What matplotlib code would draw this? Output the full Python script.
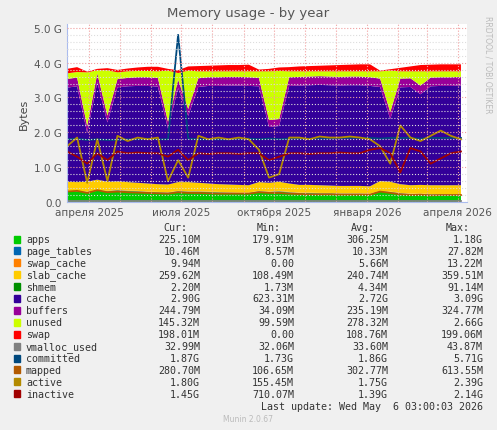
import matplotlib
matplotlib.use("Agg")
import matplotlib.pyplot as plt
import matplotlib.dates as mdates
import numpy as np
import pandas as pd

# 10-day samples starting 2025-03-10 (values in GB)
dates = pd.date_range("2025-03-10", periods=40, freq="10D")

apps = [0.30, 0.30, 0.28, 0.32, 0.30, 0.33, 0.31, 0.30, 0.28, 0.27, 0.26, 0.30, 0.29, 0.29, 0.28,
        0.27, 0.26, 0.25, 0.25, 0.30, 0.28, 0.30, 0.27, 0.25, 0.25, 0.24, 0.24, 0.23, 0.23, 0.23,
        0.22, 0.30, 0.28, 0.24, 0.22, 0.22, 0.21, 0.21, 0.20, 0.20]
page_tables = [0.01] * 40
swap_cache = [0.01] * 40
slab_cache = [0.26, 0.25, 0.28, 0.30, 0.26, 0.24, 0.24, 0.23, 0.23, 0.22, 0.22, 0.25, 0.26, 0.24, 0.23,
              0.22, 0.22, 0.22, 0.21, 0.25, 0.25, 0.26, 0.24, 0.22, 0.22, 0.22, 0.21, 0.21, 0.21, 0.21,
              0.21, 0.28, 0.28, 0.25, 0.24, 0.25, 0.25, 0.25, 0.26, 0.26]
shmem = [0.002] * 40
cache = [2.70, 2.75, 1.40, 2.80, 1.70, 2.70, 2.75, 2.78, 2.80, 2.80, 1.60, 2.70, 1.90, 2.75, 2.80,
         2.82, 2.84, 2.85, 2.85, 2.75, 1.60, 1.60, 2.80, 2.85, 2.86, 2.88, 2.88, 2.88, 2.89, 2.89,
         2.88, 2.70, 1.80, 2.78, 2.82, 2.60, 2.84, 2.85, 2.85, 2.86]
buffers = [0.25, 0.25, 0.20, 0.25, 0.20, 0.24, 0.24, 0.25, 0.25, 0.25, 0.20, 0.24, 0.20, 0.25, 0.25,
           0.25, 0.25, 0.25, 0.25, 0.24, 0.20, 0.20, 0.25, 0.25, 0.25, 0.25, 0.25, 0.25, 0.25, 0.25,
           0.25, 0.24, 0.20, 0.25, 0.25, 0.25, 0.25, 0.25, 0.25, 0.25]
unused = [0.16, 0.16, 1.54, 0.09, 1.30, 0.19, 0.19, 0.18, 0.18, 0.19, 1.47, 0.19, 1.10, 0.20, 0.17,
          0.17, 0.16, 0.16, 0.17, 0.19, 1.40, 1.38, 0.17, 0.16, 0.15, 0.14, 0.15, 0.16, 0.15, 0.15,
          0.17, 0.21, 1.19, 0.21, 0.20, 0.41, 0.18, 0.17, 0.17, 0.16]
swap = [0.13, 0.14, 0.02, 0.04, 0.06, 0.07, 0.08, 0.10, 0.12, 0.13, 0.05, 0.08, 0.12, 0.15, 0.16,
        0.17, 0.18, 0.18, 0.19, 0.05, 0.07, 0.10, 0.12, 0.14, 0.15, 0.16, 0.17, 0.18, 0.19, 0.20,
        0.20, 0.02, 0.04, 0.10, 0.14, 0.18, 0.19, 0.20, 0.20, 0.20]
vmalloc_used = [0.033] * 40
committed = [1.80, 1.82, 1.78, 1.80, 1.78, 1.78, 1.80, 1.80, 1.82, 1.80, 1.80, 4.80, 1.82, 1.80, 1.80,
             1.80, 1.80, 1.82, 1.82, 1.80, 1.82, 1.80, 1.82, 1.82, 1.82, 1.82, 1.82, 1.84, 1.84, 1.84,
             1.84, 1.82, 1.84, 1.84, 1.84, 1.82, 1.84, 1.84, 1.84, 1.84]
mapped = [0.30, 0.32, 0.26, 0.34, 0.28, 0.30, 0.28, 0.27, 0.26, 0.25, 0.24, 0.28, 0.26, 0.26, 0.25,
          0.24, 0.24, 0.24, 0.24, 0.28, 0.26, 0.26, 0.24, 0.23, 0.22, 0.22, 0.22, 0.21, 0.21, 0.21,
          0.21, 0.30, 0.26, 0.22, 0.20, 0.21, 0.19, 0.20, 0.20, 0.20]
active = [1.60, 1.85, 0.55, 1.80, 0.60, 1.90, 1.75, 1.85, 1.80, 1.85, 0.60, 1.20, 0.70, 1.90, 1.80,
          1.85, 1.80, 1.85, 1.80, 1.50, 0.70, 0.80, 1.85, 1.85, 1.80, 1.88, 1.85, 1.85, 1.88, 1.85,
          1.80, 1.60, 1.10, 2.20, 1.85, 1.75, 1.90, 2.05, 1.90, 1.80]
inactive = [1.45, 1.30, 1.10, 1.40, 1.20, 1.45, 1.40, 1.42, 1.40, 1.40, 1.30, 1.50, 1.20, 1.40, 1.38,
            1.40, 1.40, 1.38, 1.40, 1.40, 1.20, 1.30, 1.40, 1.40, 1.38, 1.40, 1.40, 1.42, 1.40, 1.40,
            1.50, 1.55, 1.40, 0.85, 1.55, 1.45, 1.10, 1.25, 1.40, 1.45]

names = ["apps", "page_tables", "swap_cache", "slab_cache", "shmem", "cache", "buffers", "unused",
         "swap", "vmalloc_used", "committed", "mapped", "active", "inactive"]
cur = ["225.10M", "10.46M", "9.94M", "259.62M", "2.20M", "2.90G", "244.79M", "145.32M", "198.01M",
       "32.99M", "1.87G", "280.70M", "1.80G", "1.45G"]
mins = ["179.91M", "8.57M", "0.00", "108.49M", "1.73M", "623.31M", "34.09M", "99.59M", "0.00",
        "32.06M", "1.73G", "106.65M", "155.45M", "710.07M"]
avgs = ["306.25M", "10.33M", "5.66M", "240.74M", "4.34M", "2.72G", "235.19M", "278.32M", "108.76M",
        "33.60M", "1.86G", "302.77M", "1.75G", "1.39G"]
maxs = ["1.18G", "27.82M", "13.22M", "359.51M", "91.14M", "3.09G", "324.77M", "2.66G", "199.06M",
        "43.87M", "5.71G", "613.55M", "2.39G", "2.14G"]
colors = ["#00CC00", "#0066B3", "#FF8000", "#FFCC00", "#008F00", "#330099", "#990099", "#CCFF00",
          "#FF0000", "#808080", "#00487D", "#B35A00", "#B38A00", "#A00000"]

fig = plt.figure(figsize=(4.97, 4.31), dpi=100, facecolor="#F0F0F0")
ax = fig.add_axes([67 / 497, (431 - 203) / 431, 400 / 497, 178 / 431])
ax.set_facecolor("white")

stack = [apps, page_tables, swap_cache, slab_cache, shmem, cache, buffers, unused, swap]
ax.stackplot(dates, *[np.array(s) * 1e9 for s in stack], colors=colors[:9], linewidth=0)
for vals, c in zip([vmalloc_used, committed, mapped, active, inactive], colors[9:]):
    ax.plot(dates, np.array(vals) * 1e9, color=c, lw=1.3)

ax.set_xlim(pd.Timestamp("2025-03-10"), pd.Timestamp("2026-04-10"))
ax.set_ylim(0, 5.11e9)
ax.set_yticks([0, 1e9, 2e9, 3e9, 4e9, 5e9])
ax.set_yticklabels(["0.0", "1.0 G", "2.0 G", "3.0 G", "4.0 G", "5.0 G"])
ax.set_yticks(np.arange(0, 5.1e9, 0.2e9), minor=True)
ticks = [pd.Timestamp(d) for d in ["2025-04-01", "2025-07-01", "2025-10-01", "2026-01-01", "2026-04-01"]]
ax.set_xticks(ticks)
ax.set_xticklabels(["апреля 2025", "июля 2025", "октября 2025", "января 2026", "апреля 2026"])
ax.xaxis.set_minor_locator(mdates.MonthLocator())
ax.tick_params(labelsize=7.5, colors="#555555", length=0, which="both")
ax.grid(True, which="both", axis="y", color="#DDDDDD", ls=":", lw=0.8)
ax.grid(True, which="major", axis="y", color="#F0A0A0", ls=":", lw=0.8)
ax.grid(True, which="both", axis="x", color="#F0A0A0", ls=":", lw=0.8)
ax.set_axisbelow(False)
for s in ["top", "right"]:
    ax.spines[s].set_visible(False)
for s in ["left", "bottom"]:
    ax.spines[s].set_color("#AABBEE")
ax.set_ylabel("Bytes", fontsize=8, color="#444444")

fig.text(0.5, 1 - 14 / 431, "Memory usage - by year", ha="center", va="center", fontsize=9.5, color="#555555")
fig.text(488 / 497, 1 - 65 / 431, "RRDTOOL / TOBI OETIKER", rotation=270, ha="center", va="center",
         fontsize=5.5, color="#BBBBBB")

mono = {"family": "DejaVu Sans Mono", "fontsize": 7.2, "color": "#333333"}
def ty(y):
    return 1 - y / 431
cols = [200, 294, 388, 483]
for x, h in zip(cols, ["Cur:", "Min:", "Avg:", "Max:"]):
    fig.text((x - 13) / 497, ty(228), h, ha="right", va="center", **mono)
for i, n in enumerate(names):
    y = 240 + i * 11.9
    fig.patches.append(plt.Rectangle((14 / 497, ty(y + 3.5)), 6 / 497, 7 / 431, color=colors[i],
                                     transform=fig.transFigure, figure=fig))
    fig.text(26 / 497, ty(y), n, ha="left", va="center", **mono)
    for x, v in zip(cols, [cur[i], mins[i], avgs[i], maxs[i]]):
        fig.text(x / 497, ty(y), v, ha="right", va="center", **mono)
fig.text(483 / 497, ty(407), "Last update: Wed May  6 03:00:03 2026", ha="right", va="center", **mono)
fig.text(248 / 497, ty(420), "Munin 2.0.67", ha="center", va="center", fontsize=5.5, color="#BBBBBB")

fig.savefig("out.png", dpi=100, facecolor=fig.get_facecolor())
